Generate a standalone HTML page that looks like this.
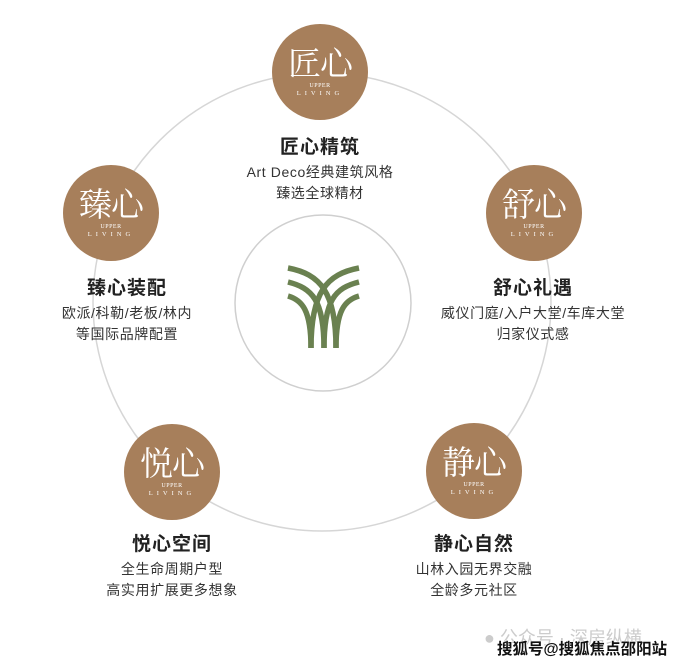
<!DOCTYPE html>
<html><head><meta charset="utf-8"><style>
html,body{margin:0;padding:0;background:#fff;width:681px;height:663px;overflow:hidden;position:relative;font-family:"Liberation Sans","Noto Sans CJK SC",sans-serif}
.b{position:absolute;width:96px;height:96px;border-radius:50%;background:#a77f5b;color:#fff;text-align:center}
.b .c{font-family:"Noto Serif CJK SC",serif;font-size:33px;line-height:36px;margin-top:20px;letter-spacing:-1px}
.b .u{font-family:"Liberation Serif",serif;font-size:6px;line-height:7px;margin-top:3px;letter-spacing:0.5px}
.b .l{font-family:"Liberation Serif",serif;font-size:6.5px;line-height:8px;letter-spacing:4px}
.t{position:absolute;text-align:center;width:240px;color:#222}
.t .h{font-size:19px;font-weight:bold;line-height:24px;letter-spacing:1px}
.t .s{font-size:14px;line-height:21px;color:#333;letter-spacing:0.6px}
</style></head><body>
<svg width="681" height="663" style="position:absolute;left:0;top:0">
<circle cx="322" cy="302" r="229" fill="none" stroke="#d6d6d6" stroke-width="1.5"/>
<circle cx="323" cy="303" r="88" fill="none" stroke="#cfcfcf" stroke-width="1.5"/>
<g fill="none" stroke="#6a8150" stroke-width="5.5">
<path d="M288,268 C320,274 336,292 336,348"/>
<path d="M288,282 C312,288 324,300 324,348"/>
<path d="M288,296 C302,300 311,310 311,348"/>
<path d="M359,268 C327,274 311,292 311,348"/>
<path d="M359,282 C335,288 324,300 324,348"/>
<path d="M359,296 C345,300 336,310 336,348"/>
</g>
</svg>
<div class="b" style="left:272px;top:24px"><div class="c">匠心</div><div class="u">UPPER</div><div class="l">LIVING</div></div>
<div class="b" style="left:63px;top:165px"><div class="c">臻心</div><div class="u">UPPER</div><div class="l">LIVING</div></div>
<div class="b" style="left:486px;top:165px"><div class="c">舒心</div><div class="u">UPPER</div><div class="l">LIVING</div></div>
<div class="b" style="left:124px;top:424px"><div class="c">悦心</div><div class="u">UPPER</div><div class="l">LIVING</div></div>
<div class="b" style="left:426px;top:423px"><div class="c">静心</div><div class="u">UPPER</div><div class="l">LIVING</div></div>
<div class="t" style="left:200px;top:136px"><div class="h">匠心精筑</div><div class="s" style="margin-top:2px">Art Deco经典建筑风格</div><div class="s">臻选全球精材</div></div>
<div class="t" style="left:7px;top:277px"><div class="h">臻心装配</div><div class="s" style="margin-top:2px">欧派/科勒/老板/林内</div><div class="s">等国际品牌配置</div></div>
<div class="t" style="left:413px;top:277px"><div class="h">舒心礼遇</div><div class="s" style="margin-top:2px">威仪门庭/入户大堂/车库大堂</div><div class="s">归家仪式感</div></div>
<div class="t" style="left:52px;top:533px"><div class="h">悦心空间</div><div class="s" style="margin-top:2px">全生命周期户型</div><div class="s">高实用扩展更多想象</div></div>
<div class="t" style="left:354px;top:533px"><div class="h">静心自然</div><div class="s" style="margin-top:2px">山林入园无界交融</div><div class="s">全龄多元社区</div></div>
<div style="position:absolute;left:484px;top:624px;font-size:18px;color:#ccc">● 公众号 · 深房纵横</div>
<div style="position:absolute;left:497px;top:637px;font-size:15.5px;font-weight:bold;color:#111;-webkit-text-stroke:1px #fff;paint-order:stroke">搜狐号@搜狐焦点邵阳站</div>
</body></html>
